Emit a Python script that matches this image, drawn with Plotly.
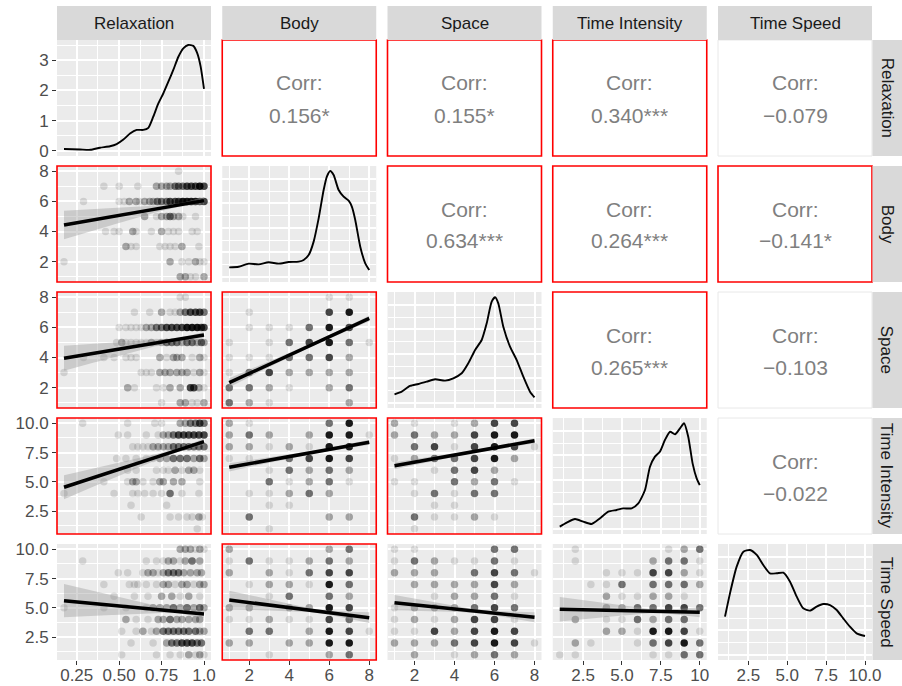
import numpy as np
import plotly.graph_objects as go

W, H = 902, 686

VARS = ["Relaxation", "Body", "Space", "Time Intensity", "Time Speed"]
DATA_RANGES = [(0.175, 1.0), (1, 8), (1, 8), (1, 10), (1, 10)]
TICKVALS = [[0.25, 0.5, 0.75, 1.0], [2, 4, 6, 8], [2, 4, 6, 8], [2.5, 5, 7.5, 10], [2.5, 5, 7.5, 10]]
MINORVALS = [[0.375, 0.625, 0.875], [1, 3, 5, 7], [1, 3, 5, 7], [1.25, 3.75, 6.25, 8.75], [1.25, 3.75, 6.25, 8.75]]
X_TICKTEXT = [["0.25", "0.50", "0.75", "1.0"], ["2", "4", "6", "8"], ["2", "4", "6", "8"],
              ["2.5", "5.0", "7.5", "10"], ["2.5", "5.0", "7.5", "10.0"]]
Y_TICKTEXT = [["0", "1", "2", "3"], ["2", "4", "6", "8"], ["2", "4", "6", "8"],
              ["2.5", "5.0", "7.5", "10.0"], ["2.5", "5.0", "7.5", "10.0"]]
REL_DENS_TICKS = [0, 1, 2, 3]
REL_DENS_MINOR = [0.5, 1.5, 2.5, 3.5]

# correlations (upper triangle, row-major)
CORR_PAIRS = [(0, 1), (0, 2), (0, 3), (0, 4), (1, 2), (1, 3), (1, 4), (2, 3), (2, 4), (3, 4)]
CORR_VALUES = [0.156, 0.155, 0.340, -0.079, 0.634, 0.264, -0.141, 0.265, -0.103, -0.022]
CORR_STARS = ["*", "*", "***", "", "***", "***", "*", "***", "", ""]

# densities on the diagonal (x, density)
DENS_REL_X = [0.175, 0.27, 0.33, 0.387, 0.446, 0.485, 0.525, 0.564, 0.603, 0.642, 0.672, 0.701, 0.731,
              0.760, 0.790, 0.819, 0.849, 0.878, 0.907, 0.937, 0.96, 0.98, 1.0]
DENS_REL_Y = [0.056, 0.04, 0.03, 0.10, 0.15, 0.22, 0.37, 0.57, 0.69, 0.69, 0.76, 1.13, 1.57,
              1.90, 2.29, 2.68, 3.12, 3.40, 3.51, 3.48, 3.24, 2.80, 2.05]
DENS_BODY_X = [1.0, 1.47, 1.97, 2.47, 2.97, 3.47, 3.97, 4.47, 4.72, 4.97, 5.22, 5.47, 5.72, 5.88, 6.05,
               6.22, 6.47, 6.72, 6.97, 7.13, 7.30, 7.55, 7.80, 8.0]
DENS_BODY_Y = [0.089, 0.095, 0.124, 0.117, 0.137, 0.124, 0.139, 0.143, 0.159, 0.206, 0.333, 0.554, 0.822,
               0.949, 1.003, 0.964, 0.822, 0.759, 0.721, 0.664, 0.538, 0.285, 0.127, 0.064]
DENS_SPACE_X = [1.0, 1.36, 1.775, 2.19, 2.61, 3.03, 3.53, 3.94, 4.36, 4.69, 5.03, 5.36, 5.61, 5.86, 6.03,
                6.19, 6.44, 6.775, 7.11, 7.44, 7.775, 8.0]
DENS_SPACE_Y = [0.08, 0.105, 0.159, 0.178, 0.20, 0.222, 0.21, 0.232, 0.279, 0.374, 0.50, 0.595, 0.753, 0.959,
                1.0, 0.942, 0.721, 0.532, 0.405, 0.247, 0.105, 0.051]
DENS_TI_X = [1.0, 1.45, 1.98, 2.51, 3.05, 3.59, 4.12, 4.66, 5.08, 5.62, 6.05, 6.48, 6.8, 7.12, 7.44, 7.76,
             8.09, 8.41, 8.73, 8.99, 9.26, 9.54, 9.8, 10.0]
DENS_TI_Y = [0.02, 0.058, 0.092, 0.067, 0.045, 0.099, 0.162, 0.178, 0.193, 0.193, 0.24, 0.367, 0.588, 0.684,
             0.731, 0.841, 0.92, 0.895, 0.952, 1.0, 0.873, 0.62, 0.478, 0.414]
DENS_TS_X = [1.0, 1.32, 1.75, 2.18, 2.61, 3.04, 3.46, 3.89, 4.32, 4.75, 5.18, 5.61, 6.03, 6.46, 6.89, 7.32,
             7.75, 8.18, 8.6, 9.03, 9.46, 10.0]
DENS_TS_Y = [0.361, 0.582, 0.835, 0.977, 0.993, 0.946, 0.851, 0.772, 0.772, 0.778, 0.693, 0.551, 0.44, 0.418,
             0.456, 0.481, 0.471, 0.424, 0.345, 0.266, 0.203, 0.178]
DENS = [(DENS_REL_X, DENS_REL_Y), (DENS_BODY_X, DENS_BODY_Y), (DENS_SPACE_X, DENS_SPACE_Y),
        (DENS_TI_X, DENS_TI_Y), (DENS_TS_X, DENS_TS_Y)]

# Relaxation column scatter: {y: [(relaxation, overlapping count), ...]}
REL_BODY = {
    8: [(0.85, 1)],
    7: [(0.41, 1), (0.50, 1), (0.61, 1), (0.72, 3), (0.75, 3), (0.78, 3), (0.80, 3), (0.83, 6), (0.85, 6),
        (0.875, 6), (0.90, 10), (0.925, 10), (0.95, 10), (0.975, 18), (1.0, 10)],
    6: [(0.29, 1), (0.50, 1), (0.53, 1), (0.56, 3), (0.60, 3), (0.62, 1), (0.65, 3), (0.68, 3), (0.70, 3),
        (0.725, 6), (0.75, 6), (0.78, 6), (0.80, 10), (0.83, 10), (0.85, 10), (0.875, 18), (0.90, 18),
        (0.925, 18), (0.95, 18), (0.975, 10), (1.0, 10)],
    5: [(0.65, 3), (0.72, 1), (0.75, 3), (0.78, 3), (0.80, 6), (0.82, 3), (0.85, 3), (0.875, 1), (0.95, 1)],
    4: [(0.42, 1), (0.47, 1), (0.50, 1), (0.58, 3), (0.60, 1), (0.69, 1), (0.75, 3), (0.79, 1), (0.82, 1),
        (0.85, 1), (0.93, 1), (0.96, 1)],
    3: [(0.54, 3), (0.57, 1), (0.60, 1), (0.74, 1), (0.77, 1), (0.80, 1), (0.83, 1), (0.87, 3), (0.97, 1)],
    2: [(0.175, 1), (0.80, 3), (0.87, 1), (0.91, 1), (0.95, 3), (0.975, 1), (1.0, 1)],
    1: [(0.86, 3), (0.89, 3), (0.92, 1), (0.95, 1), (1.0, 3)],
}
REL_SPACE = {
    8: [(0.86, 1), (0.89, 1)],
    7: [(0.59, 1), (0.68, 1), (0.75, 3), (0.80, 1), (0.83, 1), (0.86, 3), (0.89, 6), (0.92, 10), (0.95, 10),
        (0.975, 10), (1.0, 6)],
    6: [(0.50, 1), (0.54, 1), (0.57, 1), (0.60, 1), (0.63, 1), (0.66, 3), (0.69, 3), (0.72, 6), (0.75, 6),
        (0.78, 10), (0.81, 10), (0.84, 10), (0.87, 10), (0.90, 18), (0.93, 18), (0.96, 18), (0.985, 10),
        (1.0, 10)],
    5: [(0.485, 1), (0.515, 3), (0.54, 1), (0.57, 1), (0.60, 1), (0.63, 1), (0.66, 1), (0.69, 3), (0.72, 1),
        (0.75, 3), (0.78, 6), (0.81, 6), (0.84, 6), (0.87, 3), (0.90, 6), (0.93, 6), (0.96, 3), (0.985, 6),
        (1.0, 3)],
    4: [(0.29, 1), (0.41, 1), (0.47, 1), (0.54, 1), (0.57, 1), (0.60, 1), (0.74, 3), (0.78, 1), (0.82, 3),
        (0.84, 3), (0.87, 3), (0.93, 1), (0.975, 3), (1.0, 1)],
    3: [(0.175, 1), (0.63, 1), (0.66, 1), (0.69, 1), (0.74, 3), (0.77, 3), (0.80, 3), (0.84, 3), (0.87, 3),
        (0.90, 3), (0.94, 1), (0.975, 3), (1.0, 1)],
    2: [(0.55, 3), (0.59, 1), (0.72, 1), (0.76, 1), (0.80, 3), (0.86, 3), (0.92, 10), (0.94, 10), (0.97, 3),
        (1.0, 1)],
    1: [(0.75, 1), (0.86, 3), (0.89, 3), (0.93, 1), (0.96, 1), (1.0, 3)],
}
REL_TI = {
    10: [(0.285, 1), (0.55, 1), (0.71, 1), (0.75, 1), (0.86, 3), (0.89, 3), (0.92, 6), (0.95, 6), (0.975, 10),
         (1.0, 6)],
    9: [(0.495, 1), (0.55, 1), (0.66, 1), (0.73, 1), (0.76, 3), (0.79, 3), (0.82, 6), (0.85, 10), (0.88, 10),
        (0.91, 10), (0.94, 10), (0.97, 10), (1.0, 10)],
    8: [(0.58, 1), (0.61, 1), (0.64, 1), (0.67, 1), (0.70, 3), (0.73, 3), (0.76, 3), (0.79, 3), (0.82, 6),
        (0.85, 6), (0.88, 6), (0.91, 6), (0.94, 6), (0.97, 6), (1.0, 6)],
    7: [(0.485, 1), (0.54, 1), (0.60, 1), (0.66, 1), (0.70, 1), (0.74, 3), (0.78, 3), (0.82, 6), (0.86, 6),
        (0.90, 6), (0.94, 3), (0.975, 6), (1.0, 3)],
    6: [(0.55, 1), (0.60, 1), (0.72, 1), (0.76, 1), (0.79, 1), (0.83, 3), (0.87, 1), (0.91, 3), (0.94, 3),
        (0.975, 1)],
    5: [(0.41, 1), (0.55, 1), (0.58, 3), (0.60, 3), (0.64, 1), (0.70, 1), (0.74, 3), (0.76, 3), (0.82, 3),
        (0.87, 3), (0.975, 1)],
    4: [(0.175, 1), (0.47, 1), (0.58, 1), (0.61, 1), (0.65, 1), (0.70, 1), (0.75, 1), (0.80, 6), (0.87, 1),
        (0.97, 1)],
    3: [(0.57, 1), (0.78, 1)],
    2: [(0.63, 1), (0.80, 1), (0.85, 1), (0.90, 1), (0.93, 1), (0.97, 3), (0.99, 1)],
    1: [(0.96, 1)],
}
REL_TS = {
    10: [(0.86, 3), (0.89, 3), (0.92, 3), (0.95, 1), (0.975, 3), (1.0, 1)],
    9: [(0.285, 1), (0.66, 1), (0.72, 1), (0.76, 1), (0.79, 3), (0.82, 3), (0.86, 1), (0.89, 3), (0.93, 6),
        (0.975, 3)],
    8: [(0.495, 1), (0.55, 1), (0.64, 1), (0.67, 3), (0.70, 3), (0.73, 1), (0.76, 3), (0.79, 6), (0.82, 6),
        (0.85, 6), (0.88, 3), (0.92, 3), (0.96, 3), (0.985, 3)],
    7: [(0.41, 1), (0.56, 1), (0.59, 1), (0.61, 1), (0.66, 1), (0.72, 1), (0.76, 3), (0.79, 3), (0.83, 1),
        (0.87, 3), (0.90, 3), (0.94, 1), (0.975, 3), (1.0, 3)],
    6: [(0.47, 1), (0.59, 1), (0.67, 1), (0.75, 3), (0.81, 3), (0.86, 1), (0.91, 3), (0.975, 1)],
    5: [(0.175, 1), (0.41, 1), (0.54, 1), (0.66, 1), (0.70, 3), (0.74, 3), (0.78, 3), (0.82, 6), (0.86, 3),
        (0.90, 6), (0.94, 3), (0.975, 6), (1.0, 3)],
    4: [(0.54, 3), (0.60, 1), (0.67, 1), (0.73, 3), (0.76, 3), (0.80, 6), (0.84, 3), (0.87, 3), (0.91, 3),
        (0.95, 3), (0.975, 3)],
    3: [(0.515, 1), (0.60, 1), (0.64, 3), (0.69, 1), (0.72, 3), (0.76, 6), (0.79, 6), (0.82, 6), (0.85, 6),
        (0.88, 6), (0.91, 6), (0.95, 6), (0.975, 3), (1.0, 3)],
    2: [(0.57, 1), (0.70, 1), (0.78, 3), (0.81, 6), (0.84, 6), (0.87, 10), (0.90, 10), (0.93, 10), (0.96, 6),
        (0.985, 6)],
    1: [(0.515, 1), (0.72, 1), (0.80, 1), (0.86, 1), (0.91, 3), (0.95, 1), (0.975, 3), (1.0, 1)],
}

# discrete panels: counts, rows from the highest y value down, columns x = 1..n
SPACE_BODY = [  # y 8..1, x Body 1..8
    [0, 0, 0, 0, 0, 1, 1, 0], [0, 1, 0, 0, 0, 10, 18, 0], [0, 1, 1, 1, 6, 18, 10, 0], [1, 0, 1, 6, 10, 18, 6, 1],
    [1, 1, 1, 6, 6, 10, 3, 0], [1, 6, 10, 3, 3, 3, 3, 0], [6, 6, 3, 1, 0, 3, 6, 0], [6, 3, 1, 0, 0, 0, 3, 0]]
TI_BODY = [  # y 10..1
    [3, 1, 0, 0, 0, 6, 18, 0], [3, 6, 3, 0, 3, 18, 18, 1], [3, 3, 1, 3, 1, 18, 18, 0], [1, 1, 0, 6, 10, 18, 10, 0],
    [0, 0, 1, 6, 3, 6, 3, 0], [0, 0, 6, 1, 3, 6, 1, 0], [0, 1, 1, 3, 6, 3, 0, 0], [0, 0, 1, 1, 0, 0, 0, 0],
    [0, 6, 0, 0, 0, 3, 3, 0], [0, 0, 1, 0, 0, 0, 0, 0]]
TI_SPACE = [
    [3, 1, 0, 1, 3, 10, 10, 0], [3, 6, 3, 3, 10, 18, 18, 0], [0, 6, 10, 1, 10, 18, 10, 1], [1, 3, 6, 6, 10, 18, 3, 0],
    [0, 0, 1, 6, 10, 3, 0, 0], [1, 1, 0, 6, 3, 6, 1, 0], [0, 1, 6, 1, 6, 6, 0, 0], [0, 0, 1, 1, 0, 0, 0, 0],
    [0, 6, 1, 1, 3, 1, 0, 0], [0, 1, 0, 0, 0, 0, 0, 0]]
TS_BODY = [
    [3, 0, 0, 0, 0, 3, 6, 0], [1, 6, 1, 1, 3, 6, 3, 0], [3, 0, 3, 1, 6, 10, 10, 0], [0, 1, 3, 3, 1, 18, 6, 0],
    [0, 0, 1, 6, 0, 6, 3, 0], [3, 3, 0, 3, 3, 18, 10, 0], [1, 1, 3, 1, 1, 10, 6, 0], [0, 6, 6, 0, 3, 18, 10, 1],
    [3, 3, 0, 3, 3, 18, 18, 0], [0, 0, 1, 0, 0, 3, 6, 0]]
TS_SPACE = [
    [1, 1, 0, 0, 0, 6, 6, 0], [1, 6, 3, 1, 1, 6, 1, 0], [3, 3, 3, 0, 6, 10, 6, 1], [0, 3, 3, 3, 3, 10, 3, 0],
    [0, 0, 1, 3, 3, 6, 1, 0], [1, 3, 3, 3, 6, 10, 6, 0], [1, 3, 1, 3, 10, 10, 1, 0], [1, 1, 10, 3, 10, 18, 10, 0],
    [3, 3, 3, 6, 10, 18, 10, 1], [0, 3, 0, 1, 3, 6, 3, 0]]
TS_TI = [  # x Time Intensity 1..10
    [0, 1, 0, 0, 0, 0, 0, 1, 3, 6], [0, 1, 0, 0, 0, 0, 3, 6, 6, 1], [0, 0, 0, 1, 1, 1, 10, 10, 3, 1],
    [0, 0, 1, 1, 6, 0, 6, 6, 6, 3], [0, 0, 0, 3, 1, 1, 3, 3, 1, 0], [0, 0, 0, 3, 3, 6, 6, 10, 10, 6],
    [0, 3, 0, 1, 1, 6, 3, 6, 6, 0], [0, 0, 0, 3, 3, 1, 18, 18, 10, 1], [0, 3, 1, 0, 0, 1, 6, 10, 18, 6],
    [1, 1, 0, 0, 0, 0, 1, 1, 6, 6]]

# linear fits: (row, col): (y at x min, y at x max, x mean, half-band at mean, half-band at x min)
FITS = {
    (1, 0): (4.43, 6.05, 0.85, 0.12, 0.95),
    (2, 0): (3.95, 5.49, 0.85, 0.10, 0.83),
    (3, 0): (4.54, 8.43, 0.85, 0.15, 1.02),
    (4, 0): (5.61, 4.47, 0.85, 0.15, 1.42),
    (2, 1): (2.33, 6.60, 5.5, 0.10, 0.30),
    (3, 1): (6.24, 8.38, 5.5, 0.12, 0.35),
    (3, 2): (6.38, 8.51, 5.3, 0.12, 0.30),
    (4, 1): (5.67, 4.16, 5.5, 0.15, 0.80),
    (4, 2): (5.44, 4.20, 5.3, 0.15, 0.65),
    (4, 3): (4.88, 4.63, 7.5, 0.15, 1.05),
}

# ---------------------------------------------------------------- layout geometry
COL_LEFT = [57 + 165.25 * j for j in range(5)]
ROW_TOP = [40 + 126 * i for i in range(5)]
PW, PH = 154, 116
STRIP_TOP = 6
STRIP_RIGHT_X0 = 872.5

TICK_FONT = dict(family="Liberation Sans, Arial, sans-serif", size=17, color="#4d4d4d")
STRIP_FONT = dict(family="Liberation Sans, Arial, sans-serif", size=17, color="#1a1a1a")
CORR_FONT = dict(family="Liberation Sans, Arial, sans-serif", size=21, color="#7f7f7f")


def fx(px):
    return px / W


def fy(py):
    return 1 - py / H


def padded(lo, hi, frac=0.05):
    d = (hi - lo) * frac
    return [lo - d, hi + d]


def axid(n, kind):
    return kind if n == 1 else f"{kind}{n}"


def rel_points(d):
    xs, ys, cs = [], [], []
    for y, lst in d.items():
        for x, c in lst:
            xs.append(x)
            ys.append(y)
            cs.append(c)
    return xs, ys, cs


def grid_points(mat):
    ny = len(mat)
    xs, ys, cs = [], [], []
    for i, row in enumerate(mat):
        for j, c in enumerate(row):
            if c:
                xs.append(j + 1)
                ys.append(ny - i)
                cs.append(c)
    return xs, ys, cs


SCATTER = {
    (1, 0): rel_points(REL_BODY), (2, 0): rel_points(REL_SPACE), (3, 0): rel_points(REL_TI),
    (4, 0): rel_points(REL_TS), (2, 1): grid_points(SPACE_BODY), (3, 1): grid_points(TI_BODY),
    (3, 2): grid_points(TI_SPACE), (4, 1): grid_points(TS_BODY), (4, 2): grid_points(TS_SPACE),
    (4, 3): grid_points(TS_TI),
}

sig = {}
for (i, j), s in zip(CORR_PAIRS, CORR_STARS):
    sig[(i, j)] = s != ""
    sig[(j, i)] = s != ""

fig = go.Figure()
layout = dict(width=W, height=H, autosize=False, margin=dict(l=0, r=0, t=0, b=0, pad=0, autoexpand=False),
              paper_bgcolor="white", plot_bgcolor="#ebebeb", showlegend=False, hovermode=False,
              font=dict(family="Liberation Sans, Arial, sans-serif"))
shapes = []
annotations = []

DIAG_MAJOR = [0, 0.232, 0.464, 0.696, 0.928]
DIAG_MINOR = [0.116, 0.348, 0.58, 0.812, 1.044]

for r in range(5):
    for c in range(5):
        n = r * 5 + c + 1
        x0p, x1p = COL_LEFT[c], COL_LEFT[c] + PW
        y0p, y1p = ROW_TOP[r], ROW_TOP[r] + PH
        xdom = [fx(x0p), fx(x1p)]
        ydom = [fy(y1p), fy(y0p)]
        xa = dict(domain=xdom, anchor=axid(n, "y"), zeroline=False, showline=False, fixedrange=True,
                  automargin=False)
        ya = dict(domain=ydom, anchor=axid(n, "x"), zeroline=False, showline=False, fixedrange=True,
                  automargin=False)
        if c > r:
            xa.update(range=[0, 1], visible=False, showgrid=False)
            ya.update(range=[0, 1], visible=False, showgrid=False)
            k = CORR_PAIRS.index((r, c))
            red = CORR_STARS[k] != ""
            shapes.append(dict(type="rect", xref="paper", yref="paper", x0=xdom[0], x1=xdom[1],
                               y0=ydom[0], y1=ydom[1], fillcolor="white", layer="below",
                               line=dict(color="#ff0000" if red else "#e8e8e8", width=1.6 if red else 1)))
            cx = (x0p + x1p) / 2
            cy = (y0p + y1p) / 2
            val = f"{CORR_VALUES[k]:.3f}".replace("-", "\u2212") + CORR_STARS[k]
            annotations.append(dict(x=fx(cx), y=fy(cy - 15), xref="paper", yref="paper", text="Corr:",
                                    showarrow=False, font=CORR_FONT, xanchor="center", yanchor="middle"))
            annotations.append(dict(x=fx(cx), y=fy(cy + 17), xref="paper", yref="paper", text=val,
                                    showarrow=False, font=CORR_FONT, xanchor="center", yanchor="middle"))
        else:
            lo, hi = DATA_RANGES[c]
            xa.update(range=padded(lo, hi), tickvals=TICKVALS[c], ticktext=X_TICKTEXT[c],
                      showgrid=True, gridcolor="white", gridwidth=1.6,
                      minor=dict(tickvals=MINORVALS[c], showgrid=True, gridcolor="white", gridwidth=0.8))
            if r == 4:
                xa.update(showticklabels=True, ticks="outside", ticklen=4, tickwidth=1.3,
                          tickcolor="#333333", tickfont=TICK_FONT, ticklabelstandoff=-4)
            else:
                xa.update(showticklabels=False, ticks="")
            if r == c:
                dx, dy = DENS[c]
                if r == 0:
                    ya.update(range=[-0.175, 3.675], tickvals=REL_DENS_TICKS, ticktext=Y_TICKTEXT[0],
                              showgrid=True, gridcolor="white", gridwidth=1.6,
                              minor=dict(tickvals=REL_DENS_MINOR, showgrid=True, gridcolor="white",
                                         gridwidth=0.8))
                else:
                    ya.update(range=[-0.05, 1.05], tickvals=DIAG_MAJOR, showgrid=True, gridcolor="white",
                              gridwidth=1.6,
                              minor=dict(tickvals=DIAG_MINOR, showgrid=True, gridcolor="white", gridwidth=0.8))
                fig.add_trace(go.Scatter(x=dx, y=dy, mode="lines", line=dict(color="black", width=1.9,
                                                                              shape="spline", smoothing=0.6),
                                         xaxis=axid(n, "x"), yaxis=axid(n, "y")))
            else:
                ylo, yhi = DATA_RANGES[r]
                ya.update(range=padded(ylo, yhi), tickvals=TICKVALS[r], ticktext=Y_TICKTEXT[r],
                          showgrid=True, gridcolor="white", gridwidth=1.6,
                          minor=dict(tickvals=MINORVALS[r], showgrid=True, gridcolor="white", gridwidth=0.8))
                xs, ys, cs = SCATTER[(r, c)]
                op = [1 - 0.88 ** k for k in cs]
                fig.add_trace(go.Scatter(x=xs, y=ys, mode="markers",
                                         marker=dict(color="black", size=7.5, opacity=op, line=dict(width=0)),
                                         xaxis=axid(n, "x"), yaxis=axid(n, "y")))
                ya0, ya1, xbar, se_mid, se_x0 = FITS[(r, c)]
                xlo, xhi = DATA_RANGES[c]
                xs_fit = np.linspace(xlo, xhi, 60)
                yfit = ya0 + (ya1 - ya0) * (xs_fit - xlo) / (xhi - xlo)
                b = np.sqrt(max(se_x0 ** 2 - se_mid ** 2, 0)) / abs(xbar - xlo)
                half = np.sqrt(se_mid ** 2 + (b * (xs_fit - xbar)) ** 2)
                bx = np.concatenate([xs_fit, xs_fit[::-1]])
                by = np.concatenate([yfit + half, (yfit - half)[::-1]])
                fig.add_trace(go.Scatter(x=bx, y=by, mode="lines", fill="toself",
                                         fillcolor="rgba(153,153,153,0.4)", line=dict(width=0),
                                         xaxis=axid(n, "x"), yaxis=axid(n, "y")))
                fig.add_trace(go.Scatter(x=[xlo, xhi], y=[ya0, ya1], mode="lines",
                                         line=dict(color="black", width=3.5),
                                         xaxis=axid(n, "x"), yaxis=axid(n, "y")))
                if sig[(r, c)]:
                    shapes.append(dict(type="rect", xref="paper", yref="paper", x0=xdom[0], x1=xdom[1],
                                       y0=ydom[0], y1=ydom[1], fillcolor="rgba(0,0,0,0)", layer="above",
                                       line=dict(color="#ff0000", width=1.6)))
            if c == 0:
                ya.update(showticklabels=True, ticks="outside", ticklen=4, tickwidth=1.3,
                          tickcolor="#333333", tickfont=TICK_FONT)
            else:
                ya.update(showticklabels=False, ticks="")
        layout[axid(n, "xaxis")] = xa
        layout[axid(n, "yaxis")] = ya

# strips
for j, name in enumerate(VARS):
    x0p, x1p = COL_LEFT[j], COL_LEFT[j] + PW
    shapes.append(dict(type="rect", xref="paper", yref="paper", x0=fx(x0p), x1=fx(x1p),
                       y0=fy(ROW_TOP[0]), y1=fy(STRIP_TOP), fillcolor="#d9d9d9", line=dict(width=0),
                       layer="below"))
    annotations.append(dict(x=fx((x0p + x1p) / 2), y=fy((STRIP_TOP + ROW_TOP[0]) / 2), xref="paper",
                            yref="paper", text=name, showarrow=False, font=STRIP_FONT,
                            xanchor="center", yanchor="middle"))
for i, name in enumerate(VARS):
    y0p, y1p = ROW_TOP[i], ROW_TOP[i] + PH
    shapes.append(dict(type="rect", xref="paper", yref="paper", x0=fx(STRIP_RIGHT_X0), x1=1,
                       y0=fy(y1p), y1=fy(y0p), fillcolor="#d9d9d9", line=dict(width=0), layer="below"))
    annotations.append(dict(x=fx((STRIP_RIGHT_X0 + W) / 2), y=fy((y0p + y1p) / 2), xref="paper",
                            yref="paper", text=name, showarrow=False, font=STRIP_FONT, textangle=90,
                            xanchor="center", yanchor="middle"))

layout["shapes"] = shapes
layout["annotations"] = annotations
fig.update_layout(**layout)
fig.write_html("out.html", config={"responsive": False, "displayModeBar": False})
